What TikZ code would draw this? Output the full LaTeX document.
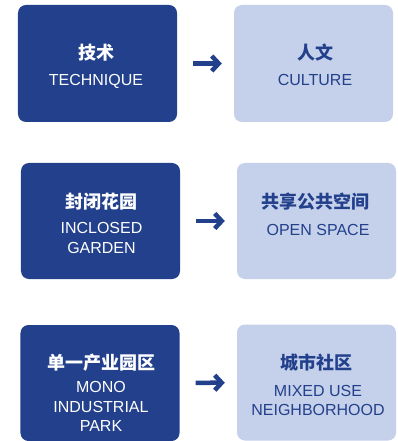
\documentclass[tikz,border=0pt]{standalone}
\usepackage{fontspec}
\setmainfont{Liberation Sans}
\newfontfamily\cjk{Noto Sans CJK SC}
\usetikzlibrary{arrows.meta}
\definecolor{darkblue}{HTML}{22408B}
\definecolor{paleblue}{HTML}{C5D0EA}
\tikzset{
  darkbox/.style={fill=darkblue, rounded corners=8bp, minimum width=159bp, minimum height=116bp, inner sep=0pt},
  palebox/.style={fill=paleblue, rounded corners=8bp, minimum width=159bp, minimum height=116bp, inner sep=0pt},
  zh/.style={anchor=base, inner sep=0pt, font=\cjk\bfseries\fontsize{18bp}{20bp}\selectfont},
  en/.style={anchor=base, inner sep=0pt, font=\fontsize{16bp}{19bp}\selectfont},
  arr/.style={-{Straight Barb[length=7bp,width=15bp]}, line width=4.5bp, darkblue, shorten <=16bp, shorten >=12bp}
}
\begin{document}
\begin{tikzpicture}[x=1bp,y=-1bp]
\useasboundingbox[fill=white] (0,0) rectangle (397,441);
\node[darkbox, minimum height=117bp] (d1) at (97.5,63.5) {};
\node[palebox, minimum height=117bp] (p1) at (313.5,63.5) {};
\node[darkbox] (d2) at (100.5,221) {};
\node[palebox] (p2) at (316.5,221) {};
\node[darkbox] (d3) at (100,383) {};
\node[palebox] (p3) at (316.5,382.5) {};

\node[zh, white] (d1zh) at (96,60) {技术};
\node[en, white] (d1en) at (96,85.5) {TECHNIQUE};
\node[zh, darkblue] (p1zh) at (315,60) {人文};
\node[en, darkblue] (p1en) at (315,85.5) {CULTURE};

\node[zh, white] (d2zh) at (101.5,209) {封闭花园};
\node[en, white] (d2en) at (101.5,233.5) {INCLOSED};
\node[en, white] (d2en2) at (101.5,253.5) {GARDEN};
\node[zh, darkblue] (p2zh) at (315.5,209) {共享公共空间};
\node[en, darkblue] (p2en) at (318,235.5) {OPEN SPACE};

\node[zh, white] (d3zh) at (101,369) {单一产业园区};
\node[en, white] (d3en) at (101,392.5) {MONO};
\node[en, white] (d3en2) at (101,412.5) {INDUSTRIAL};
\node[en, white] (d3en3) at (101,431.5) {PARK};
\node[zh, darkblue] (p3zh) at (316.5,369) {城市社区};
\node[en, darkblue] (p3en) at (318,396.5) {MIXED USE};
\node[en, darkblue] (p3en2) at (318,415.5) {NEIGHBORHOOD};

\draw[arr] (d1) -- (p1);
\draw[arr] (d2) -- (p2);
\draw[arr] (d3) -- (p3);
\end{tikzpicture}
\end{document}
